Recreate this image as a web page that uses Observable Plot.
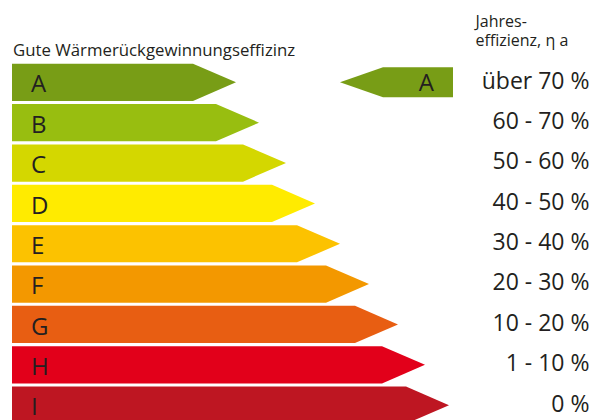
<!DOCTYPE html>
<html><head><meta charset="utf-8">
<script src="https://cdn.jsdelivr.net/npm/d3@7"></script>
<script src="https://cdn.jsdelivr.net/npm/@observablehq/plot@0.6"></script>
<style>html,body{margin:0;padding:0;background:#fff;overflow:hidden}</style>
</head><body><div id="chart"></div>
<script>
// ---- data ----
const classes = ["A", "B", "C", "D", "E", "F", "G", "H", "I"];
const lengths = [224, 247, 274, 303, 328, 357, 386, 413, 437];
const ranges = ["über 70 %", "60 - 70 %", "50 - 60 %", "40 - 50 %", "30 - 40 %", "20 - 30 %", "10 - 20 %", "1 - 10 %", "0 %"];
const colors = ["#789d16", "#98be10", "#d4d700", "#ffeb00", "#fcc200", "#f39800", "#e85e12", "#e2001a", "#be1622"];
const title = "Gute Wärmerückgewinnungseffizinz";
const header = "Jahres-\neffizienz, η a";
const rating = "A";
const ratingArrowSpan = [328, 441];

// ---- geometry (style) ----
const HALF = 0.461, HEAD = 43, RHALF = 0.372;
const ink = "#231f20";

const arrowPts = classes.flatMap((c, i) => [
  {c, y: i - HALF, x2: lengths[i] - HEAD},
  {c, y: i, x2: lengths[i]},
  {c, y: i + HALF, x2: lengths[i] - HEAD}
]);
const ri = classes.indexOf(rating);
const ratingPts = [
  {y: ri - RHALF, x1: ratingArrowSpan[0] + HEAD},
  {y: ri, x1: ratingArrowSpan[0]},
  {y: ri + RHALF, x1: ratingArrowSpan[0] + HEAD}
];

const chart = Plot.plot({
  width: 601, height: 420, margin: 0,
  style: {fontFamily: "'Open Sans', sans-serif", background: "white", color: ink},
  x: {domain: [-12, 589], range: [0, 601], axis: null},
  y: {domain: [-2.039, 8.367], range: [0, 420], axis: null},
  color: {domain: classes, range: colors},
  marks: [
    Plot.areaX(arrowPts, {y: "y", x1: 0, x2: "x2", z: "c", fill: "c", curve: "linear"}),
    Plot.areaX(ratingPts, {y: "y", x1: "x1", x2: ratingArrowSpan[1], fill: colors[ri], curve: "linear"}),
    Plot.text(classes, {x: 0, y: (d, i) => i, text: d => d, textAnchor: "start", dx: 18.5, dy: 2, fontSize: 24, fill: ink}),
    Plot.text([rating], {x: ratingArrowSpan[1], y: ri, text: d => d, textAnchor: "end", dx: -19.5, dy: 1, fontSize: 24, fill: ink}),
    Plot.text(ranges, {frameAnchor: "right", y: (d, i) => i, text: d => d, textAnchor: "end", dx: -12, dy: -1.5, fontSize: 23, fill: ink}),
    Plot.text([title], {frameAnchor: "top-left", text: d => d, textAnchor: "start", lineAnchor: "top", dx: 12.5, dy: 43.8, fontSize: 16.8, fill: ink}),
    Plot.text([header], {frameAnchor: "top-left", text: d => d, textAnchor: "start", lineAnchor: "top", dx: 475, dy: 12, fontSize: 16, lineHeight: 1.24, fill: ink})
  ]
});
document.getElementById("chart").appendChild(chart);
</script>
</body></html>
